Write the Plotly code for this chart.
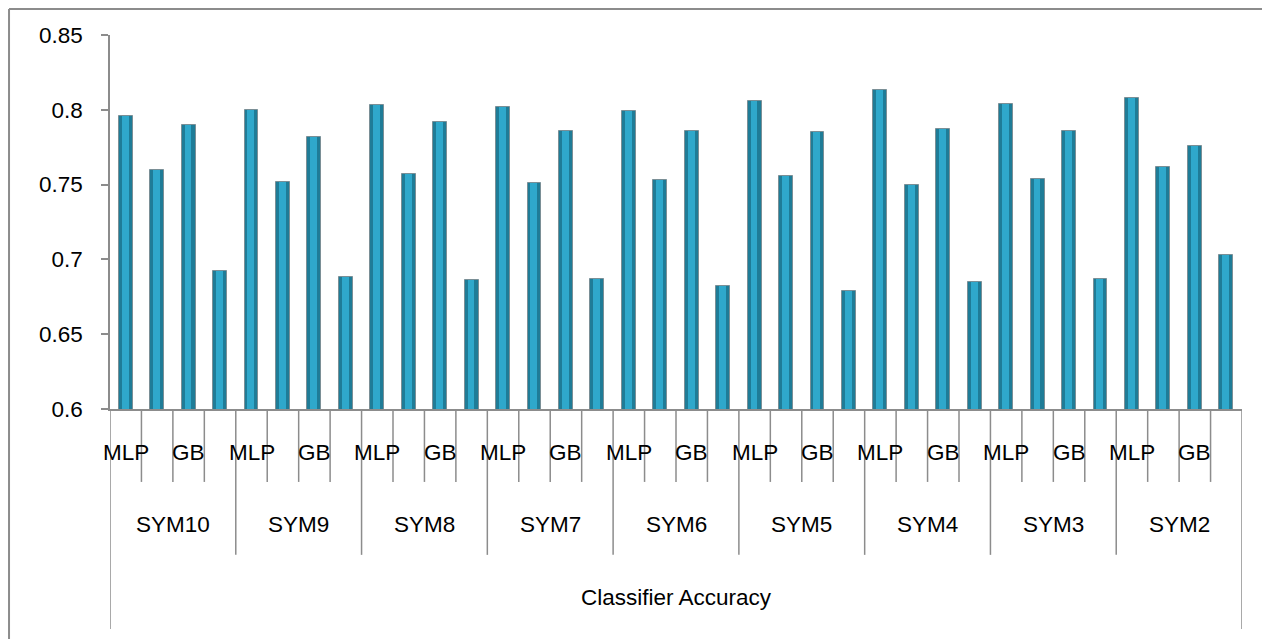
import plotly.graph_objects as go

groups = ["SYM10", "SYM9", "SYM8", "SYM7", "SYM6", "SYM5", "SYM4", "SYM3", "SYM2"]
classifier_labels = ["MLP", "", "GB", ""]
axis_title = "Classifier Accuracy"

# accuracy per group, in classifier order (MLP, 2nd, GB, 4th)
acc_sym10 = [0.796, 0.760, 0.790, 0.692]
acc_sym9 = [0.800, 0.752, 0.782, 0.688]
acc_sym8 = [0.803, 0.757, 0.792, 0.686]
acc_sym7 = [0.802, 0.751, 0.786, 0.687]
acc_sym6 = [0.799, 0.753, 0.786, 0.682]
acc_sym5 = [0.806, 0.756, 0.785, 0.679]
acc_sym4 = [0.813, 0.750, 0.787, 0.685]
acc_sym3 = [0.804, 0.754, 0.786, 0.687]
acc_sym2 = [0.808, 0.762, 0.776, 0.703]

y_ticks = [0.6, 0.65, 0.7, 0.75, 0.8, 0.85]
y_ticktext = ["0.6", "0.65", "0.7", "0.75", "0.8", "0.85"]

all_acc = [acc_sym10, acc_sym9, acc_sym8, acc_sym7, acc_sym6,
           acc_sym5, acc_sym4, acc_sym3, acc_sym2]

n_cls = len(classifier_labels)
values = [v for g in all_acc for v in g]
xs = [i + 0.5 for i in range(len(values))]
n = len(values)

FONT = "Liberation Sans, Arial, sans-serif"
FS = 22.5
GRAY = "#8c8c8c"

fig = go.Figure()
# body of the cylinder
fig.add_trace(go.Bar(x=xs, y=values, width=0.44,
                     marker=dict(color="#1f7c97", line=dict(color="#7a8f96", width=1)),
                     hoverinfo="y", showlegend=False))
# highlight stripe
fig.add_trace(go.Bar(x=[x - 0.02 for x in xs], y=values, width=0.22,
                     marker=dict(color="#2fa8cb", line=dict(width=0)),
                     hoverinfo="skip", showlegend=False))

shapes = []
# tick separators between categories
for k in range(n + 1):
    if k == 0 or k == n:
        y1 = -0.588
    elif k % n_cls == 0:
        y1 = -0.39
    else:
        y1 = -0.195
    shapes.append(dict(type="line", xref="x", yref="paper", x0=k, x1=k, y0=0, y1=y1,
                       line=dict(color=GRAY, width=1.5)))
# outer chart border (left and top)
shapes.append(dict(type="line", xref="paper", yref="paper", x0=-0.0892, x1=-0.0892,
                   y0=1.0695, y1=-0.62, line=dict(color=GRAY, width=2)))
shapes.append(dict(type="line", xref="paper", yref="paper", x0=-0.0892, x1=1.03,
                   y0=1.0695, y1=1.0695, line=dict(color=GRAY, width=2)))

annotations = []
for gi, g in enumerate(groups):
    for ci, lab in enumerate(classifier_labels):
        if lab:
            annotations.append(dict(x=gi * n_cls + ci + 0.5, y=-0.115, xref="x", yref="paper",
                                    yanchor="middle", xanchor="center",
                                    text=lab, showarrow=False,
                                    font=dict(family=FONT, size=FS, color="black")))
    annotations.append(dict(x=gi * n_cls + n_cls / 2, y=-0.31, xref="x", yref="paper",
                            yanchor="middle", xanchor="center",
                            text=g, showarrow=False,
                            font=dict(family=FONT, size=FS, color="black")))
annotations.append(dict(x=n / 2, y=-0.505, xref="x", yref="paper", text=axis_title,
                        yanchor="middle", xanchor="center",
                        showarrow=False, font=dict(family=FONT, size=FS, color="black")))

fig.update_layout(
    width=1262, height=631,
    margin=dict(l=102, r=28, t=27, b=230),
    paper_bgcolor="white", plot_bgcolor="white",
    barmode="overlay", bargap=0,
    font=dict(family=FONT, size=FS, color="black"),
    shapes=shapes, annotations=annotations,
    showlegend=False,
)
fig.update_xaxes(range=[0, n], showgrid=False, zeroline=False, showticklabels=False,
                 ticks="", showline=True, linecolor=GRAY, linewidth=1.5, fixedrange=True)
fig.update_yaxes(range=[0.6, 0.85], tickvals=y_ticks, ticktext=y_ticktext,
                 showgrid=False, zeroline=False, ticks="outside", ticklen=7,
                 tickcolor=GRAY, tickwidth=1.5, showline=True, linecolor=GRAY,
                 linewidth=1.5, ticklabelstandoff=14,
                 tickfont=dict(family=FONT, size=FS, color="black"), fixedrange=True)

fig.write_html("out.html")
